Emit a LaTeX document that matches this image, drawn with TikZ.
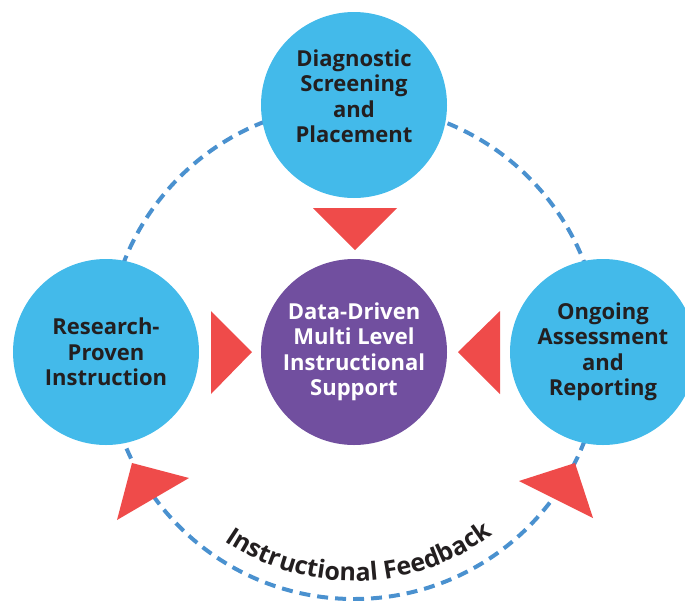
\documentclass[tikz,border=0pt]{standalone}
\usepackage{fontspec}
\setmainfont{Open Sans}
\usetikzlibrary{decorations.text}

\definecolor{cyclesky}{RGB}{67,186,234}
\definecolor{cyclepurple}{RGB}{113,79,159}
\definecolor{cyclered}{RGB}{239,75,74}
\definecolor{cycledash}{RGB}{74,145,207}
\definecolor{cycletext}{RGB}{35,31,32}

\begin{document}
\begin{tikzpicture}[x=1pt,y=-1pt,
  stage/.style={circle,fill=cyclesky,minimum size=186pt,inner sep=0pt,align=center,
    text=cycletext,font=\bfseries\fontsize{22}{25.5}\selectfont},
  hub/.style={stage,fill=cyclepurple,text=white},
  pointer/.style={fill=cyclered}]
  \useasboundingbox (0,0) rectangle (685,600);

  % feedback loop
  \draw[cycledash,line width=4pt,dash pattern=on 11pt off 7pt] (354,352) circle[radius=247];
  \path[decorate,decoration={text along path,text align=center,
    text={|\color{cycletext}\bfseries\fontsize{25}{25}\selectfont|Instructional Feedback}}]
    (354,352) ++(125:229) arc[start angle=125,end angle=52,radius=229];

  % stages
  \node[stage,text depth=18pt] (diag) at (354,105) {Diagnostic\\Screening\\and\\Placement};
  \node[stage] (research) at (106,352) {Research-\\Proven\\Instruction};
  \node[stage] (ongoing) at (603,352) {Ongoing\\Assessment\\and\\Reporting};
  \node[hub] (support) at (354,352) {Data-Driven\\Multi Level\\Instructional\\Support};

  % pointers
  \fill[pointer] (313,208) -- (397,208) -- (355,250) -- cycle;
  \fill[pointer] (211,311) -- (211,394) -- (252,352) -- cycle;
  \fill[pointer] (500,311) -- (500,394) -- (458,352) -- cycle;
  \fill[pointer] (117,520) -- (189,478) -- (132,463) -- cycle;
  \fill[pointer] (593,518) -- (519,481) -- (575,463) -- cycle;
\end{tikzpicture}
\end{document}
